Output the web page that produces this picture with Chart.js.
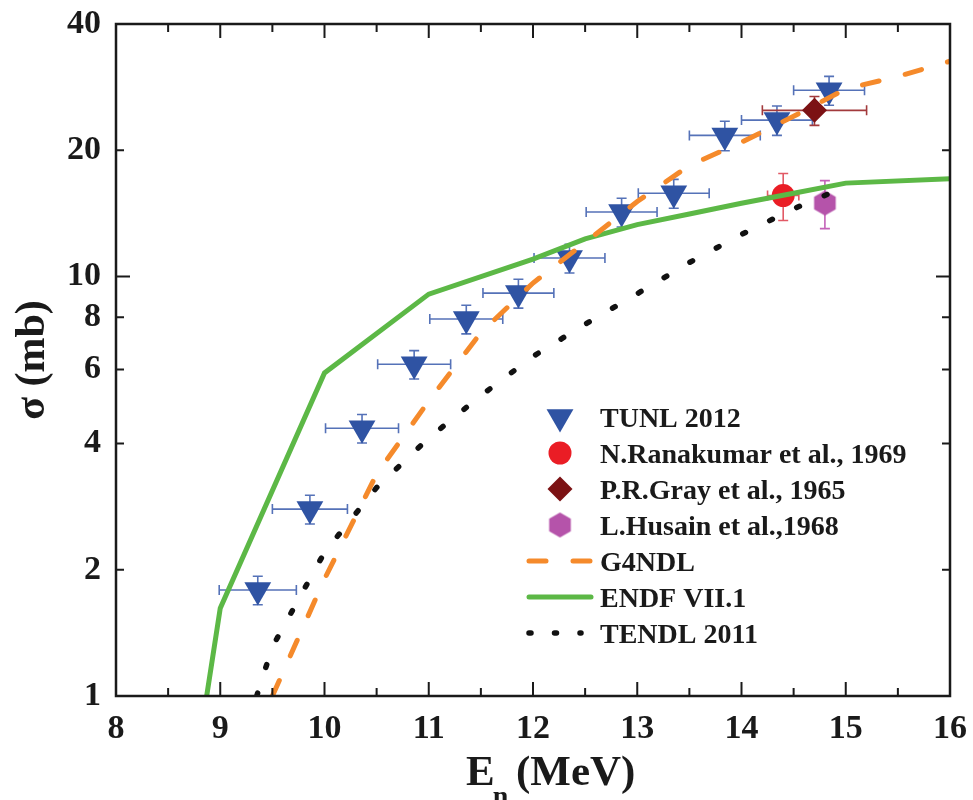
<!DOCTYPE html>
<html>
<head>
<meta charset="utf-8">
<script src="https://cdn.jsdelivr.net/npm/chart.js@4"></script>
<style>
  body { margin: 0; background: #fff; }
  #wrap { width: 973px; height: 800px; }
</style>
</head>
<body>
<div id="wrap"><canvas id="sigmaChart" width="973" height="800"></canvas></div>
<script>
// TUNL 2012 measurements (E in MeV, sigma in mb)
const tunlE = [9.36, 9.86, 10.36, 10.86, 11.36, 11.86, 12.35, 12.85, 13.35, 13.84, 14.34, 14.84];
const tunlSigma = [1.79, 2.79, 4.35, 6.18, 7.92, 9.13, 11.07, 14.25, 15.8, 21.7, 23.6, 27.8];
const tunlEErr = [0.37, 0.36, 0.35, 0.35, 0.35, 0.34, 0.34, 0.34, 0.34, 0.34, 0.34, 0.34];
const tunlSigmaErr = [0.14, 0.22, 0.34, 0.48, 0.62, 0.72, 0.87, 1.12, 1.25, 1.75, 1.9, 2.2];

// older measurements
const ranaE = [14.4];
const ranaSigma = [15.6];
const ranaEErr = [0.15];
const ranaSigmaErr = [2.0];
const grayE = [14.7];
const graySigma = [24.9];
const grayEErr = [0.5];
const graySigmaErr = [1.97];
const husainE = [14.8];
const husainSigma = [14.97];
const husainSigmaErr = [1.96];

// evaluated libraries
const g4ndlE = [9.5, 10, 10.5, 11, 11.5, 12, 12.5, 13, 13.5, 14, 14.5, 15, 15.5, 16];
const g4ndlSigma = [1.0, 1.9, 3.38, 5.05, 7.35, 9.65, 12.05, 15.1, 18.4, 20.9, 24.1, 28.0, 30.0, 32.6];
const endfE = [8.87, 9, 10, 11, 12, 12.5, 13, 13.5, 14, 14.5, 15, 16];
const endfSigma = [1.0, 1.62, 5.89, 9.08, 11.0, 12.3, 13.3, 14.1, 14.95, 15.8, 16.7, 17.1];
const tendlE = [9.35, 9.5, 10, 10.5, 11, 11.5, 12, 12.5, 13, 13.5, 14, 14.5, 15];
const tendlSigma = [1.0, 1.31, 2.2, 3.14, 4.12, 5.2, 6.45, 7.7, 9.1, 10.8, 12.6, 14.5, 16.4];

// axes
const yTicks = [1, 2, 4, 6, 8, 10, 20, 40];
const yMajor = [1, 10];
const xMin = 8, xMax = 16;

const serif = '"Liberation Serif", "Times New Roman", serif';
const ink = '#1a1a1a';

function pts(xs, ys) {
  return xs.map((v, i) => ({ x: v, y: ys[i] }));
}

function hexagon(r, color) {
  const c = document.createElement('canvas');
  c.width = c.height = 2 * r + 2;
  const g = c.getContext('2d');
  g.fillStyle = color;
  g.beginPath();
  for (let k = 0; k < 6; k++) {
    const a = Math.PI / 2 + k * Math.PI / 3;
    g.lineTo(r + 1 + r * Math.cos(a), r + 1 + r * Math.sin(a));
  }
  g.closePath();
  g.fill();
  return c;
}
const hexImg = hexagon(12.5, '#b553aa');

// error bars under the markers
const errorBars = {
  id: 'errorBars',
  beforeDatasetsDraw(chart) {
    const { ctx, scales: { x, y } } = chart;
    chart.data.datasets.forEach(ds => {
      if (!ds.errColor) return;
      ctx.save();
      ctx.strokeStyle = ds.errColor;
      ctx.lineWidth = 1.6;
      ctx.beginPath();
      ds.data.forEach((p, i) => {
        const px = x.getPixelForValue(p.x);
        const py = y.getPixelForValue(p.y);
        const cap = 5;
        if (ds.xErr) {
          const x0 = x.getPixelForValue(p.x - ds.xErr[i]);
          const x1 = x.getPixelForValue(p.x + ds.xErr[i]);
          ctx.moveTo(x0, py); ctx.lineTo(x1, py);
          ctx.moveTo(x0, py - cap); ctx.lineTo(x0, py + cap);
          ctx.moveTo(x1, py - cap); ctx.lineTo(x1, py + cap);
        }
        if (ds.yErr) {
          const y0 = y.getPixelForValue(p.y - ds.yErr[i]);
          const y1 = y.getPixelForValue(p.y + ds.yErr[i]);
          ctx.moveTo(px, y0); ctx.lineTo(px, y1);
          ctx.moveTo(px - cap, y0); ctx.lineTo(px + cap, y0);
          ctx.moveTo(px - cap, y1); ctx.lineTo(px + cap, y1);
        }
      });
      ctx.stroke();
      ctx.restore();
    });
  }
};

// box frame with inward ticks on all four sides
const frameAndTicks = {
  id: 'frameAndTicks',
  afterDatasetsDraw(chart) {
    const { ctx, chartArea: a, scales: { x, y } } = chart;
    ctx.save();
    ctx.strokeStyle = ink;
    ctx.lineWidth = 2.5;
    ctx.strokeRect(a.left, a.top, a.right - a.left, a.bottom - a.top);
    ctx.lineWidth = 2;
    ctx.beginPath();
    for (let v = xMin; v <= xMax; v += 0.5) {
      const px = x.getPixelForValue(v);
      const len = Number.isInteger(v) ? 14 : 8;
      ctx.moveTo(px, a.bottom); ctx.lineTo(px, a.bottom - len);
      ctx.moveTo(px, a.top); ctx.lineTo(px, a.top + len);
    }
    yTicks.forEach(v => {
      const py = y.getPixelForValue(v);
      const len = yMajor.includes(v) ? 14 : 8;
      ctx.moveTo(a.left, py); ctx.lineTo(a.left + len, py);
      ctx.moveTo(a.right, py); ctx.lineTo(a.right - len, py);
    });
    ctx.stroke();
    ctx.restore();
  }
};

// x title with a subscript n
const axisTitleX = {
  id: 'axisTitleX',
  afterDraw(chart) {
    const ctx = chart.ctx;
    const base = chart.height - 15;
    ctx.save();
    ctx.fillStyle = ink;
    ctx.textBaseline = 'alphabetic';
    ctx.font = 'bold 43px ' + serif;
    ctx.fillText('E', 466, base);
    const wE = ctx.measureText('E').width;
    ctx.fillText('(MeV)', 516, base);
    ctx.font = 'bold 28px ' + serif;
    ctx.fillText('n', 466 + wE - 2, base + 20);
    ctx.restore();
  }
};

function drawMarker(ctx, ds, cx, cy) {
  ctx.fillStyle = ds.backgroundColor;
  ctx.beginPath();
  if (ds.pointStyle === 'triangle') {
    const r = ds.pointRadius;
    ctx.moveTo(cx, cy + r);
    ctx.lineTo(cx - r * Math.sin(Math.PI / 3), cy - r / 2);
    ctx.lineTo(cx + r * Math.sin(Math.PI / 3), cy - r / 2);
    ctx.closePath();
    ctx.fill();
  } else if (ds.pointStyle === 'circle') {
    ctx.arc(cx, cy, ds.pointRadius, 0, Math.PI * 2);
    ctx.fill();
  } else if (ds.pointStyle === 'rectRot') {
    const r = ds.pointRadius;
    ctx.moveTo(cx - r, cy); ctx.lineTo(cx, cy - r);
    ctx.lineTo(cx + r, cy); ctx.lineTo(cx, cy + r);
    ctx.closePath();
    ctx.fill();
  } else {
    ctx.drawImage(ds.pointStyle, cx - ds.pointStyle.width / 2, cy - ds.pointStyle.height / 2);
  }
}

// legend inside the plot
const innerLegend = {
  id: 'innerLegend',
  afterDraw(chart) {
    const ctx = chart.ctx;
    const left = 527, markX = 560, textX = 600, top = 427, step = 36;
    ctx.save();
    ctx.font = 'bold 28px ' + serif;
    ctx.textBaseline = 'alphabetic';
    chart.data.datasets.forEach((ds, i) => {
      const base = top + i * step;
      const my = base - 10;
      if (ds.showLine) {
        ctx.strokeStyle = ds.borderColor;
        ctx.lineWidth = ds.borderWidth;
        ctx.lineCap = 'round';
        ctx.setLineDash(ds.legendDash || ds.borderDash || []);
        ctx.beginPath();
        ctx.moveTo(left + 2, my);
        ctx.lineTo(left + (ds.legendLen || 64), my);
        ctx.stroke();
        ctx.setLineDash([]);
      } else {
        drawMarker(ctx, ds, markX, my);
      }
      ctx.fillStyle = ink;
      ctx.fillText(ds.label, textX, base);
    });
    ctx.restore();
  }
};

const ctx = document.getElementById('sigmaChart').getContext('2d');
const tickFont = { family: serif, size: 34, weight: 'bold' };

new Chart(ctx, {
  type: 'scatter',
  data: {
    datasets: [
      {
        label: 'TUNL 2012',
        data: pts(tunlE, tunlSigma),
        xErr: tunlEErr, yErr: tunlSigmaErr, errColor: '#5572b8',
        pointStyle: 'triangle', pointRotation: 180, pointRadius: 15.5,
        backgroundColor: '#2f53a3', borderWidth: 0, order: 2
      },
      {
        label: 'N.Ranakumar et al., 1969',
        data: pts(ranaE, ranaSigma),
        xErr: ranaEErr, yErr: ranaSigmaErr, errColor: '#e25a66',
        pointStyle: 'circle', pointRadius: 11.5,
        backgroundColor: '#ea1d25', borderWidth: 0, order: 2
      },
      {
        label: 'P.R.Gray et al., 1965',
        data: pts(grayE, graySigma),
        xErr: grayEErr, yErr: graySigmaErr, errColor: '#a23a3c',
        pointStyle: 'rectRot', pointRadius: 12.5,
        backgroundColor: '#7c1214', borderWidth: 0, order: 2
      },
      {
        label: 'L.Husain et al.,1968',
        data: pts(husainE, husainSigma),
        yErr: husainSigmaErr, errColor: '#c462b8',
        pointStyle: hexImg, pointRadius: 12.5,
        backgroundColor: '#b553aa', borderWidth: 0, order: 2
      },
      {
        label: 'G4NDL',
        data: pts(g4ndlE, g4ndlSigma),
        showLine: true, pointRadius: 0,
        borderColor: '#f58a2b', borderWidth: 5, borderDash: [17, 27],
        borderCapStyle: 'round', order: 0
      },
      {
        label: 'ENDF VII.1',
        data: pts(endfE, endfSigma),
        showLine: true, pointRadius: 0,
        borderColor: '#5cb846', borderWidth: 5, order: 1
      },
      {
        label: 'TENDL 2011',
        data: pts(tendlE, tendlSigma),
        showLine: true, pointRadius: 0,
        borderColor: '#111111', borderWidth: 5.5, borderDash: [3, 27],
        legendDash: [2, 23.5], legendLen: 54,
        borderCapStyle: 'round', order: 0
      }
    ]
  },
  options: {
    responsive: false,
    animation: false,
    layout: { padding: { top: 24, right: 23, left: 0, bottom: 0 } },
    plugins: {
      legend: { display: false },
      tooltip: { enabled: false }
    },
    scales: {
      x: {
        type: 'linear',
        min: xMin,
        max: xMax,
        grid: { display: false, drawTicks: false },
        border: { display: false },
        ticks: { stepSize: 1, padding: 13, color: ink, font: tickFont },
        afterFit: s => { s.height = 104; s.paddingLeft = 0; s.paddingRight = 0; }
      },
      y: {
        type: 'logarithmic',
        min: 1,
        max: 40,
        grid: { display: false, drawTicks: false },
        border: { display: false },
        afterBuildTicks: s => { s.ticks = yTicks.map(v => ({ value: v })); },
        ticks: { padding: 15, color: ink, font: tickFont, callback: v => String(v) },
        title: {
          display: true,
          text: 'σ (mb)',
          color: ink,
          font: { family: serif, size: 42, weight: 'bold' },
          padding: { top: 8 }
        },
        afterFit: s => { s.width = 116; s.paddingTop = 0; s.paddingBottom = 0; }
      }
    }
  },
  plugins: [errorBars, frameAndTicks, axisTitleX, innerLegend]
});
</script>
</body>
</html>
